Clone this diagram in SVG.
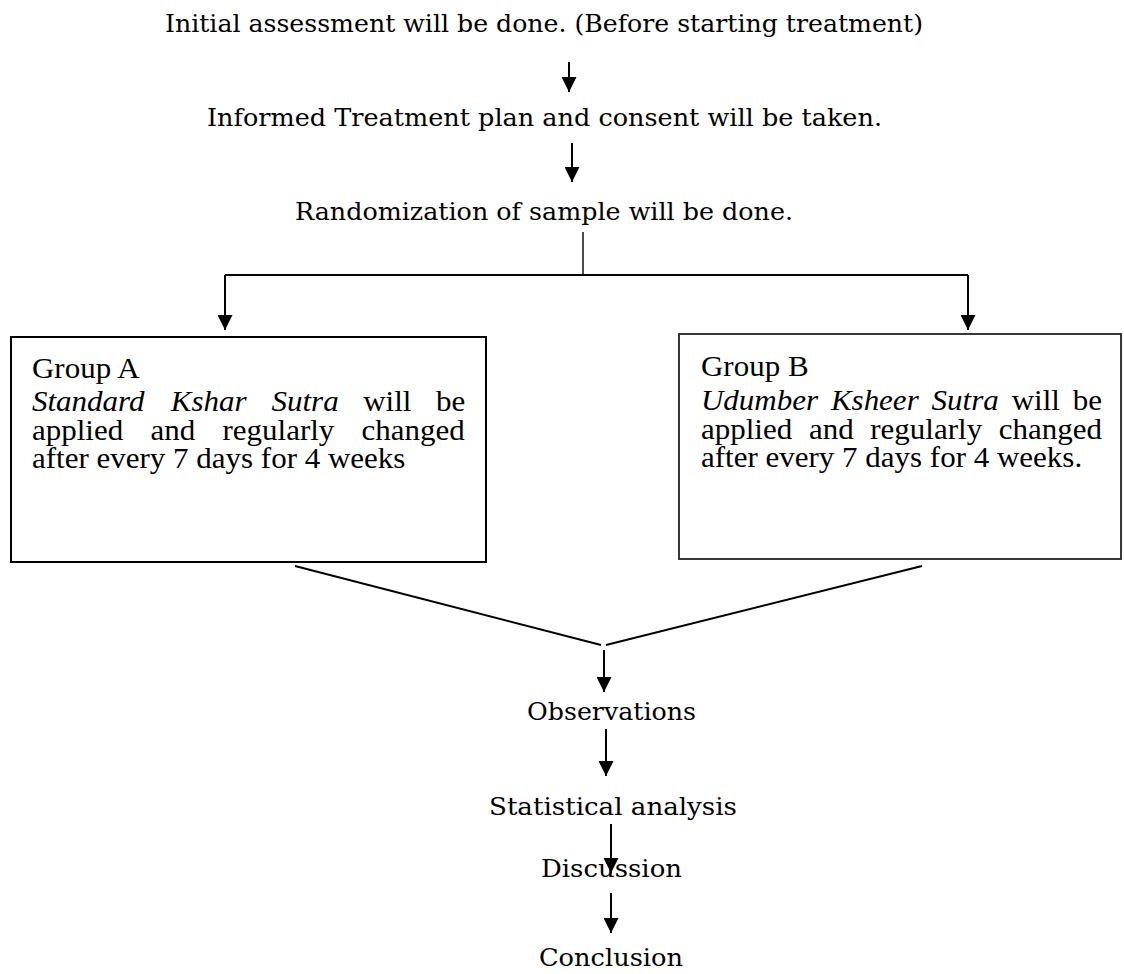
<svg xmlns="http://www.w3.org/2000/svg" width="1124" height="974" viewBox="0 0 1124 974">
<defs>
<marker id="ah" markerUnits="userSpaceOnUse" markerWidth="15" markerHeight="15" refX="15" refY="7.5" orient="auto" viewBox="0 0 15 15"><path d="M0,0 L15,7.5 L0,15 z" fill="#000"/></marker>
<style>
.bk{font-family:"DejaVu Serif","Liberation Serif",serif;font-size:24.5px;fill:#000}
.tm{font-family:"Liberation Serif","Times New Roman",serif;font-size:28.5px;fill:#000}
.it{font-style:italic}
.ln{stroke:#000;stroke-width:2;fill:none}
.thin{stroke:#000;stroke-width:1.4;fill:none}
.arr{stroke:#000;stroke-width:2;fill:none;marker-end:url(#ah)}
.box{fill:#fff;stroke:#000;stroke-width:2}
.boxb{fill:#fff;stroke:#222;stroke-width:1.8}
</style>
</defs>
<rect width="1124" height="974" fill="#fff"/>

<g id="connectors">
<line class="arr" x1="569" y1="62" x2="569" y2="92"/>
<line class="arr" x1="572" y1="143" x2="572" y2="182"/>
<line class="thin" x1="583" y1="232" x2="583" y2="275"/>
<line class="ln" x1="225" y1="275" x2="968" y2="275" stroke-width="2.5"/>
<line class="arr" x1="225" y1="275" x2="225" y2="330"/>
<line class="arr" x1="968" y1="275" x2="968" y2="330"/>
<line class="ln" x1="295" y1="566" x2="601" y2="645"/>
<line class="ln" x1="922" y1="566" x2="606" y2="645"/>
<line class="arr" x1="604" y1="650" x2="604" y2="692"/>
<line class="arr" x1="606" y1="729" x2="606" y2="776"/>
<line class="arr" x1="611" y1="824" x2="611" y2="873"/>
<line class="arr" x1="611" y1="893" x2="611" y2="933"/>
</g>

<g id="n-initial"><text class="bk" x="165" y="32" textLength="758" lengthAdjust="spacingAndGlyphs">Initial assessment will be done. (Before starting treatment)</text></g>
<g id="n-informed"><text class="bk" x="207" y="126" textLength="675" lengthAdjust="spacingAndGlyphs">Informed Treatment plan and consent will be taken.</text></g>
<g id="n-random"><text class="bk" x="295" y="220" textLength="498" lengthAdjust="spacingAndGlyphs">Randomization of sample will be done.</text></g>

<g id="n-groupA">
<rect class="box" x="11" y="337" width="475" height="225"/>
<g transform="matrix(1.0877,0,0,1,-2.806,0)">
<text class="tm" x="32" y="378">Group A</text>
<text class="tm" y="411"><tspan class="it" x="32">Standard</tspan><tspan class="it" x="159.56">Kshar</tspan><tspan class="it" x="252.19">Sutra</tspan><tspan x="336.54">will</tspan><tspan x="403.43">be</tspan></text>
<text class="tm" y="440"><tspan x="32">applied</tspan><tspan x="140.95">and</tspan><tspan x="207.14">regularly</tspan><tspan x="335.03">changed</tspan></text>
<text class="tm" x="32" y="468">after every 7 days for 4 weeks</text>
</g>
</g>

<g id="n-groupB">
<rect class="boxb" x="679" y="334" width="442" height="225"/>
<g transform="matrix(1.0877,0,0,1,-61.48,0)">
<text class="tm" x="701" y="376">Group B</text>
<text class="tm" y="410"><tspan class="it" x="701">Udumber</tspan><tspan class="it" x="820.43">Ksheer</tspan><tspan class="it" x="913.01">Sutra</tspan><tspan x="986.65">will</tspan><tspan x="1042.82">be</tspan></text>
<text class="tm" y="439"><tspan x="701">applied</tspan><tspan x="800.2">and</tspan><tspan x="856.65">regularly</tspan><tspan x="974.79">changed</tspan></text>
<text class="tm" x="701" y="467">after every 7 days for 4 weeks.</text>
</g>
</g>

<g id="n-obs"><text class="bk" x="527" y="720" textLength="169" lengthAdjust="spacingAndGlyphs">Observations</text></g>
<g id="n-stat"><text class="bk" x="489" y="815" textLength="248" lengthAdjust="spacingAndGlyphs">Statistical analysis</text></g>
<g id="n-disc"><text class="bk" x="541" y="877" textLength="141" lengthAdjust="spacingAndGlyphs">Discussion</text></g>
<g id="n-conc"><text class="bk" x="539" y="966" textLength="144" lengthAdjust="spacingAndGlyphs">Conclusion</text></g>
</svg>
